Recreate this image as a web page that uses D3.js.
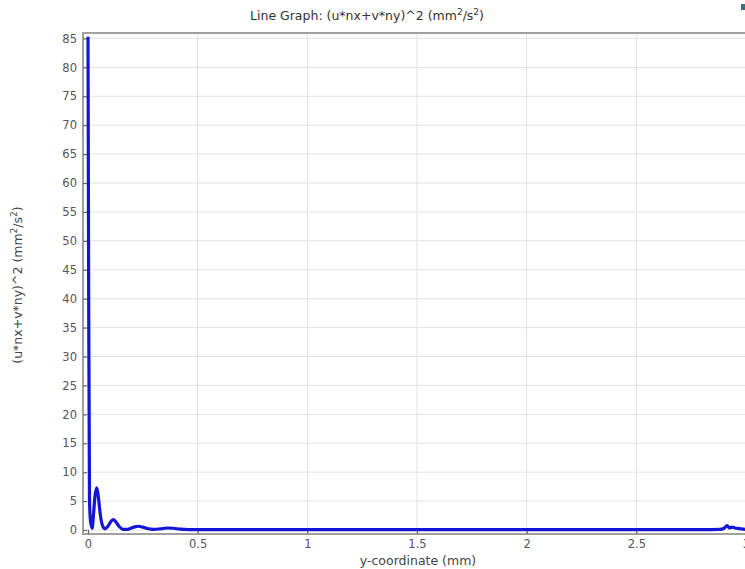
<!DOCTYPE html>
<html>
<head>
<meta charset="utf-8">
<script src="https://cdn.jsdelivr.net/npm/d3@7/dist/d3.min.js"></script>
<style>
  html, body { margin: 0; padding: 0; background: #fff; overflow: hidden; }
  svg { display: block; font-family: "DejaVu Sans", Verdana, sans-serif; }
</style>
</head>
<body>
<svg id="chart" width="745" height="569"></svg>
<script>
// Profile of (u*nx+v*ny)^2 along the boundary, y-coordinate in mm
const yCoord = [0, 0.003, 0.007, 0.012, 0.019, 0.025, 0.032, 0.04, 0.047, 0.055, 0.065, 0.077,
  0.09, 0.103, 0.115, 0.127, 0.142, 0.16, 0.176, 0.195, 0.213, 0.23, 0.25, 0.27, 0.3,
  0.33, 0.36, 0.39, 0.42, 0.46, 0.5, 0.6, 0.8, 1.0, 1.2, 1.4, 1.6, 1.8, 2.0, 2.2, 2.4,
  2.6, 2.8, 2.88, 2.9, 2.914, 2.925, 2.935, 2.95, 2.97, 3.0];
const fluxSq = [85.3, 42, 5, 1.4, 0.3, 2.6, 5.9, 7.3, 5.8, 3.0, 0.9, 0.2,
  0.6, 1.4, 1.8, 1.4, 0.6, 0.12, 0.1, 0.3, 0.55, 0.65, 0.5, 0.25, 0.1,
  0.2, 0.35, 0.3, 0.15, 0.08, 0.07, 0.06, 0.05, 0.05, 0.05, 0.05, 0.05, 0.05, 0.05, 0.05, 0.05,
  0.05, 0.06, 0.1, 0.3, 0.75, 0.35, 0.5, 0.35, 0.25, 0.1];

const xTicks = [0, 0.5, 1, 1.5, 2, 2.5, 3];
const yTicks = [0, 5, 10, 15, 20, 25, 30, 35, 40, 45, 50, 55, 60, 65, 70, 75, 80, 85];

const svg = d3.select("#chart");
const plotL = 83, plotR = 751, plotT = 33, plotB = 534;

const x = d3.scaleLinear().domain([-0.0228, 3.0228]).range([plotL, plotR]);
const y = d3.scaleLinear().domain([-0.69, 85.94]).range([plotB, plotT]);

// grid
svg.append("g").selectAll("line").data(xTicks).join("line")
  .attr("x1", d => x(d)).attr("x2", d => x(d))
  .attr("y1", plotT).attr("y2", plotB)
  .attr("stroke", "#e2e2e2").attr("stroke-width", 1);
svg.append("g").selectAll("line").data(yTicks).join("line")
  .attr("x1", plotL).attr("x2", plotR)
  .attr("y1", d => y(d)).attr("y2", d => y(d))
  .attr("stroke", "#e2e2e2").attr("stroke-width", 1);

// frame
svg.append("rect")
  .attr("x", plotL).attr("y", plotT)
  .attr("width", plotR - plotL).attr("height", plotB - plotT)
  .attr("fill", "none").attr("stroke", "#a0a0a0").attr("stroke-width", 2);

// axes with inward ticks
const xAxis = d3.axisBottom(x).tickValues(xTicks).tickSize(-4).tickPadding(6)
  .tickFormat(d => d3.format("~g")(d));
const gx = svg.append("g").attr("transform", `translate(0,${plotB})`).call(xAxis);
const yAxis = d3.axisLeft(y).tickValues(yTicks).tickSize(-4).tickPadding(6);
const gy = svg.append("g").attr("transform", `translate(${plotL},0)`).call(yAxis);
[gx, gy].forEach(g => {
  g.select(".domain").remove();
  g.selectAll(".tick line").attr("stroke", "#666").attr("stroke-width", 1.2);
  g.selectAll(".tick text").attr("fill", "#555").attr("font-size", 11.5)
    .attr("font-family", "DejaVu Sans, Verdana, sans-serif");
});

// curve
const line = d3.line()
  .x((d, i) => x(yCoord[i]))
  .y(d => y(d))
  .curve(d3.curveMonotoneX);
svg.append("path")
  .attr("d", line(fluxSq))
  .attr("fill", "none")
  .attr("stroke", "#1515d8")
  .attr("stroke-width", 3.2)
  .attr("stroke-linejoin", "round");

// title
const title = svg.append("text")
  .attr("x", 367).attr("y", 20)
  .attr("text-anchor", "middle").attr("font-size", 12.5).attr("fill", "#333");
title.append("tspan").text("Line Graph: (u*nx+v*ny)^2 (mm");
title.append("tspan").attr("baseline-shift", "super").attr("font-size", 9).text("2");
title.append("tspan").text("/s");
title.append("tspan").attr("baseline-shift", "super").attr("font-size", 9).text("2");
title.append("tspan").text(")");

// x-axis label
svg.append("text")
  .attr("x", 418).attr("y", 565)
  .attr("text-anchor", "middle").attr("font-size", 12.5).attr("fill", "#444")
  .text("y-coordinate (mm)");

// y-axis label
const yl = svg.append("text")
  .attr("transform", "translate(22,285) rotate(-90)")
  .attr("text-anchor", "middle").attr("font-size", 12.5).attr("fill", "#444");
yl.append("tspan").text("(u*nx+v*ny)^2 (mm");
yl.append("tspan").attr("baseline-shift", "super").attr("font-size", 9).text("2");
yl.append("tspan").text("/s");
yl.append("tspan").attr("baseline-shift", "super").attr("font-size", 9).text("2");
yl.append("tspan").text(")");

// small toolbar icon in the corner
svg.append("rect")
  .attr("x", 741).attr("y", 4).attr("width", 6).attr("height", 6)
  .attr("fill", "#3d6f86");
</script>
</body>
</html>
